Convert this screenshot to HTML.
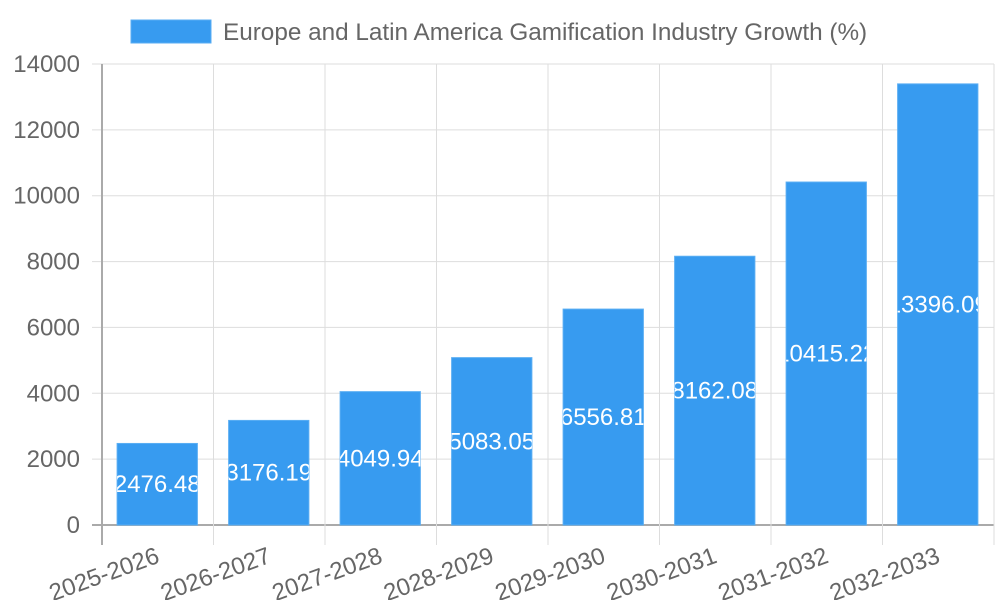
<!DOCTYPE html>
<html><head><meta charset="utf-8"><style>
body{margin:0;background:#fff;}
svg text{font-family:"Liberation Sans",sans-serif;}
</style></head><body>
<svg id="c" width="1000" height="600">
  <g>
    <rect x="131" y="20" width="80" height="23" fill="#379bf0" stroke="#5aaef3"/>
    <text x="223" y="40" font-size="24.3" fill="#666">Europe and Latin America Gamification Industry Growth (%)</text>
  </g>
  <g id="grid"></g><g id="bars"></g><g id="axes"></g>
</svg>
<script>
const categories=["2025-2026","2026-2027","2027-2028","2028-2029","2029-2030","2030-2031","2031-2032","2032-2033"];
const values=[2476.48,3176.19,4049.94,5083.05,6556.81,8162.08,10415.22,13396.09];
const yTicks=[0,2000,4000,6000,8000,10000,12000,14000];
const NS="http://www.w3.org/2000/svg";
const L=102,R=994,T=64,B=525,yMax=14000;
const bw=(R-L)/categories.length;
const y=v=>B-(v/yMax)*(B-T);
const x=i=>L+bw*i;
function mk(tag,at,parent){const e=document.createElementNS(NS,tag);for(const k in at)e.setAttribute(k,at[k]);parent.appendChild(e);return e;}
const grid=document.getElementById('grid'),bars=document.getElementById('bars'),axes=document.getElementById('axes');
yTicks.forEach(t=>{
  const ln=mk('line',{x1:L-10,x2:R,y1:y(t),y2:y(t),stroke:t===0?'#aaa':'#ddd','stroke-width':t===0?2:1},grid);
  
  
  const tx=mk('text',{x:L-22,y:y(t)+8,'text-anchor':'end','font-size':24,fill:'#666'},axes);
  tx.textContent=t;
  
  
});
for(let i=0;i<=categories.length;i++){
  const ln=mk('line',{x1:x(i),x2:x(i),y1:T,y2:B+20,stroke:i===0?'#aaa':'#ddd','stroke-width':i===0?2:1},grid);
  
  
}
const defs=mk('defs',{},bars);
categories.forEach((c,i)=>{
  const w=bw*0.72,bx=x(i)+(bw-w)/2-0.5,by=y(values[i]),h=B-by;
  const cp=mk('clipPath',{id:'cp'+i},defs);
  mk('rect',{x:bx,y:by,width:w,height:h},cp);
  const r=mk('rect',{x:bx,y:by,width:w,height:h,fill:'#379bf0',stroke:'#5aaef3','stroke-width':1},bars);
  
  
  const lb=mk('text',{x:bx+w/2,y:by+h/2+8,'text-anchor':'middle','font-size':24,fill:'#fff','clip-path':'url(#cp'+i+')'},bars);
  lb.textContent=values[i].toFixed(2);
  
  
  const cx=x(i)+bw/2;
  const xl=mk('text',{x:0,y:0,'text-anchor':'end','font-size':24,fill:'#666',transform:`translate(${cx+3},${B+37}) rotate(-20)`},axes);
  xl.textContent=c;
  
  
});
</script>
</body></html>
